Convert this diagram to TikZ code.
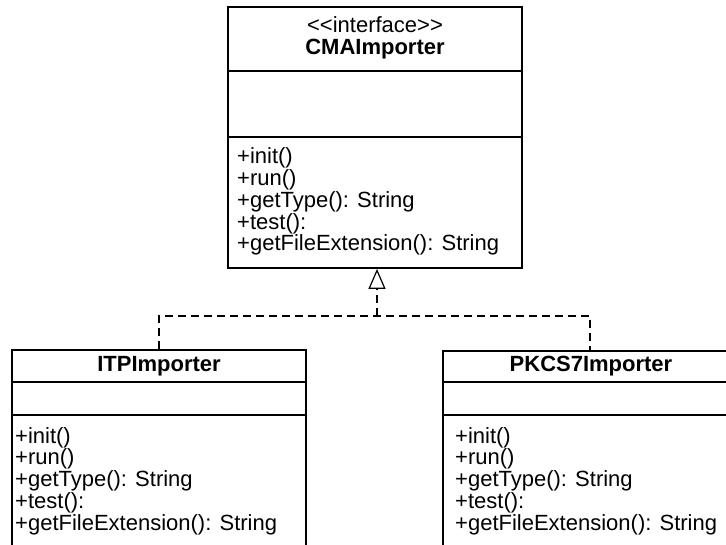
\documentclass[tikz,border=0pt]{standalone}
\usepackage{fontspec}
\setmainfont{Liberation Sans}
\usetikzlibrary{arrows.meta}

\tikzset{
  umlbox/.style={draw=black, line width=1.8pt, fill=white, inner sep=0pt},
  divider/.style={line width=1.8pt},
  txt/.style={inner sep=0pt, font=\fontsize{22}{22}\selectfont},
  member/.style={txt, anchor=base west},
  title/.style={txt, anchor=base, font=\fontsize{22}{22}\selectfont\bfseries},
  stereo/.style={txt, anchor=base},
  realize/.style={line width=1.2pt, dash pattern=on 8pt off 5pt},
  hollowtip/.style={-{Triangle[open, length=20pt, width=17pt, line width=1.2pt]}}
}

\begin{document}
\begin{tikzpicture}[x=1pt, y=-1pt]
  \useasboundingbox (0,0) rectangle (726,545);
  \clip (0,0) rectangle (726,545);
  \fill[white] (0,0) rectangle (726,545);

  % interface box
  \node[umlbox, minimum width=294pt, minimum height=261pt] (cma) at (375,137.5) {};
  \draw[divider] (228,71) -- (522,71);
  \draw[divider] (228,137) -- (522,137);
  \node[stereo] (cma-stereo) at (375,33) {<\kern0pt<interface>\kern0pt>};
  \node[title] (cma-name) at (375,55) {CMAImporter};
  \foreach \t [count=\i] in {+init(), +run(), +getType(): String, +test():, +getFileExtension(): String}
    \node[member] (cma-m\i) at (237,{164+21.75*(\i-1)}) {\t};

  % implementing class, left
  \node[umlbox, minimum width=294pt, minimum height=260pt] (itp) at (159,480) {};
  \draw[divider] (12,382) -- (306,382);
  \draw[divider] (12,415) -- (306,415);
  \node[title] (itp-name) at (159,372) {ITPImporter};
  \foreach \t [count=\i] in {+init(), +run(), +getType(): String, +test():, +getFileExtension(): String}
    \node[member] (itp-m\i) at (15,{443+21.75*(\i-1)}) {\t};

  % implementing class, right
  \node[umlbox, minimum width=294pt, minimum height=260pt] (pkcs) at (590,481) {};
  \draw[divider] (443,382) -- (737,382);
  \draw[divider] (443,415) -- (737,415);
  \node[title] (pkcs-name) at (591,372) {PKCS7Importer};
  \foreach \t [count=\i] in {+init(), +run(), +getType(): String, +test():, +getFileExtension(): String}
    \node[member] (pkcs-m\i) at (455,{443+21.75*(\i-1)}) {\t};

  % realization connectors
  \coordinate (join) at (377,316);
  \draw[realize] (itp.north) |- (join) -| (pkcs.north);
  \draw[realize, hollowtip] (join) -- (join |- cma.south);
\end{tikzpicture}
\end{document}
